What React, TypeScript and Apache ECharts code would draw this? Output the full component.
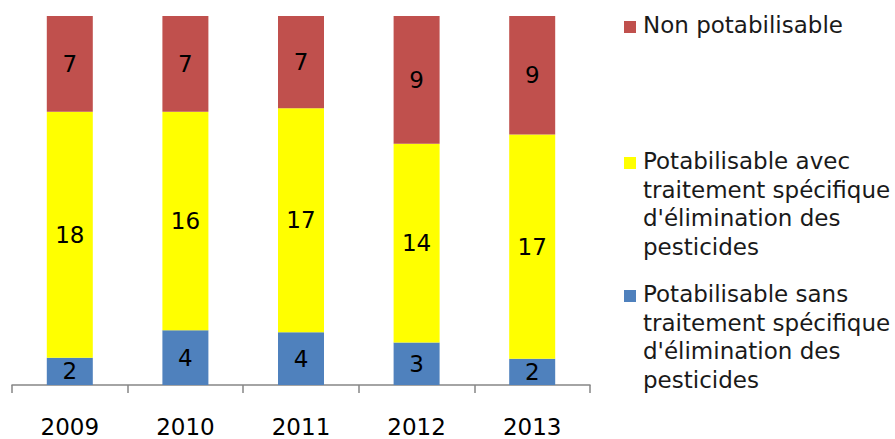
import React, { useEffect, useRef } from "react";
import * as echarts from "echarts";

const years = ["2009", "2010", "2011", "2012", "2013"];
const sansTraitement = [2, 4, 4, 3, 2];
const avecTraitement = [18, 16, 17, 14, 17];
const nonPotabilisable = [7, 7, 7, 9, 9];

const seriesNames = [
  "Potabilisable sans\ntraitement spécifique\nd'élimination des\npesticides",
  "Potabilisable avec\ntraitement spécifique\nd'élimination des\npesticides",
  "Non potabilisable",
];
const seriesColors = ["#4F81BD", "#FFFF00", "#C0504D"];

const FONT = "DejaVu Sans";

export default function App() {
  const ref = useRef<HTMLDivElement>(null);
  useEffect(() => {
    if (!ref.current) return;
    document.body.style.margin = "0";
    const chart = echarts.init(ref.current, undefined, { renderer: "svg" });
    const raw = [sansTraitement, avecTraitement, nonPotabilisable];
    const totals = years.map((_, i) => raw.reduce((s, arr) => s + arr[i], 0));
    const series = raw.map((arr, k) => ({
      name: seriesNames[k],
      type: "bar",
      stack: "total",
      barWidth: 46,
      itemStyle: { color: seriesColors[k] },
      label: {
        show: true,
        position: "inside",
        color: "#000",
        fontFamily: FONT,
        fontSize: 23,
        formatter: (p: any) => String(arr[p.dataIndex]),
      },
      data: arr.map((v, i) => (v / totals[i]) * 100),
    }));

    const legendTops = [11, 147, 280];
    const legendOrder = [2, 1, 0];
    const graphic: any[] = [];
    legendOrder.forEach((k, j) => {
      const top = legendTops[j];
      graphic.push({
        type: "rect",
        left: 624,
        top: top + 10,
        shape: { width: 12, height: 12 },
        style: { fill: seriesColors[k] },
      });
      graphic.push({
        type: "text",
        left: 643,
        top: top,
        style: {
          text: seriesNames[k],
          fontFamily: FONT,
          fontSize: 23,
          lineHeight: 28.5,
          fill: "#1a1a1a",
        },
      });
    });

    chart.setOption({
      animation: false,
      grid: { left: 12, right: 305, top: 16, bottom: 54, containLabel: false },
      xAxis: {
        type: "category",
        data: years,
        axisLine: { show: true, lineStyle: { color: "#868686", width: 1.5 } },
        axisTick: { show: true, length: 8, lineStyle: { color: "#868686", width: 1.5 } },
        axisLabel: { color: "#000", fontFamily: FONT, fontSize: 23, margin: 30 },
      },
      yAxis: {
        type: "value",
        min: 0,
        max: 100,
        show: false,
        splitLine: { show: false },
      },
      series,
      graphic,
    });
    return () => chart.dispose();
  }, []);
  return <div ref={ref} style={{ width: 895, height: 439 }} />;
}
